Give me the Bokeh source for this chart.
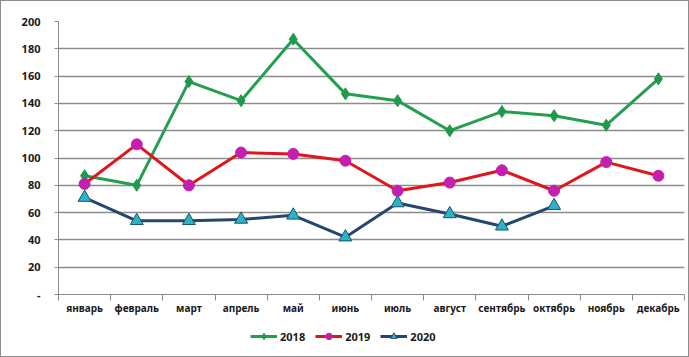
from bokeh.plotting import figure
from bokeh.models import FixedTicker, Range1d, Legend, LegendItem
from bokeh.layouts import column
from bokeh.embed import file_html
from bokeh.resources import INLINE

months = ["январь", "февраль", "март", "апрель", "май", "июнь", "июль",
          "август", "сентябрь", "октябрь", "ноябрь", "декабрь"]
y2018 = [87, 80, 156, 142, 187, 147, 142, 120, 134, 131, 124, 158]
y2019 = [81, 110, 80, 104, 103, 98, 76, 82, 91, 76, 97, 87]
y2020 = [71, 54, 54, 55, 58, 42, 67, 59, 50, 65]
y_ticks = [0, 20, 40, 60, 80, 100, 120, 140, 160, 180, 200]
series_names = ["2018", "2019", "2020"]

FONT = "Noto Sans"
TXT = "#1a1a1a"
GRID = "#8c8c8c"
styles = [
    dict(line_color="#23a04f", marker="diamond", size=12, fill_color="#1f9a4a", mline="#1f9a4a"),
    dict(line_color="#e0161b", marker="circle", size=11, fill_color="#c41fae", mline="#c41fae"),
    dict(line_color="#25476f", marker="triangle", size=13, fill_color="#2ab3c4", mline="#20506a"),
]

W = 687
p = figure(width=W, height=320, output_backend="svg", toolbar_location=None,
           x_range=Range1d(-0.5, len(months) - 0.5), y_range=Range1d(0, 200),
           min_border_left=57, min_border_right=4, min_border_top=20, min_border_bottom=27)
p.outline_line_color = None
p.background_fill_color = "white"
p.border_fill_color = "white"

x = list(range(len(months)))
for xs, ys, st in [(x, y2018, styles[0]), (x, y2019, styles[1]), (x[:len(y2020)], y2020, styles[2])]:
    p.line(xs, ys, line_color=st["line_color"], line_width=3)
    p.scatter(xs, ys, marker=st["marker"], size=st["size"], fill_color=st["fill_color"],
              line_color=st["mline"])

# x axis
p.xaxis.ticker = FixedTicker(ticks=x, minor_ticks=[i - 0.5 for i in range(len(months) + 1)])
p.xaxis.major_label_overrides = {i: m for i, m in enumerate(months)}
p.xaxis.major_tick_line_color = None
p.xaxis.major_tick_in = 0
p.xaxis.major_tick_out = 0
p.xaxis.minor_tick_in = 0
p.xaxis.minor_tick_out = 6
p.xaxis.minor_tick_line_color = GRID
p.xaxis.axis_line_color = GRID
p.xaxis.major_label_text_font = FONT
p.xaxis.major_label_text_font_size = "10px"
p.xaxis.major_label_text_font_style = "bold"
p.xaxis.major_label_text_color = TXT
p.xaxis.major_label_standoff = 0
p.xgrid.grid_line_color = None

# y axis
p.yaxis.ticker = FixedTicker(ticks=y_ticks)
p.yaxis.major_label_overrides = {0: "-"}
p.yaxis.major_tick_in = 0
p.yaxis.major_tick_out = 4
p.yaxis.major_tick_line_color = GRID
p.yaxis.minor_tick_line_color = None
p.yaxis.axis_line_color = GRID
p.yaxis.major_label_text_font = FONT
p.yaxis.major_label_text_font_size = "11px"
p.yaxis.major_label_text_font_style = "bold"
p.yaxis.major_label_text_color = TXT
p.yaxis.major_label_standoff = 14
p.ygrid.grid_line_color = GRID
p.ygrid.grid_line_width = 1.5

# legend strip
nan = float("nan")
lg = figure(width=W, height=35, output_backend="svg", toolbar_location=None,
            x_range=Range1d(0, 1), y_range=Range1d(0, 1),
            min_border=0, outline_line_color=None)
lg.axis.visible = False
lg.grid.visible = False
items = []
for name, st in zip(series_names, styles):
    rl = lg.line(x=[nan], y=[nan], line_color=st["line_color"], line_width=3)
    rs = lg.scatter(x=[nan], y=[nan], marker=st["marker"], size=st["size"] - 1,
                    fill_color=st["fill_color"], line_color=st["mline"])
    items.append(LegendItem(label=name, renderers=[rl, rs]))
legend = Legend(items=items, orientation="horizontal", location=(192, 12),
                label_text_font=FONT, label_text_font_size="11px",
                label_text_font_style="bold", label_text_color=TXT,
                glyph_width=27, glyph_height=16, label_standoff=3, spacing=10,
                border_line_color=None, background_fill_alpha=0, margin=0, padding=0)
lg.add_layout(legend, "center")

layout = column(p, lg, spacing=0)
layout.styles = {"border": "1px solid #8c8c8c", "background-color": "white"}

open("out.html", "w").write(file_html(layout, INLINE))
